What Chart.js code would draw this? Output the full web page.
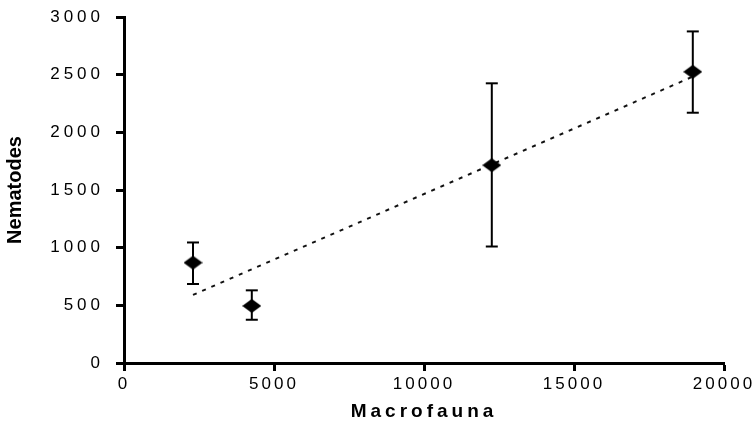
<!DOCTYPE html>
<html>
<head>
<meta charset="utf-8">
<script src="https://cdn.jsdelivr.net/npm/chart.js@4.4.1/dist/chart.umd.min.js"></script>
<style>
  html, body { margin: 0; padding: 0; background: #fff; }
  #wrap { width: 756px; height: 430px; }
</style>
</head>
<body>
<div id="wrap"><canvas id="nemChart" width="756" height="430"></canvas></div>
<script>
// values
const macrofauna = [2300, 4260, 12260, 18960];
const nematodes = [870, 495, 1715, 2525];
const errLow = [685, 375, 1010, 2170];
const errHigh = [1045, 630, 2425, 2875];
const trendX = [2300, 18960];
const trendY = [590, 2483];

const xTicks = [0, 5000, 10000, 15000, 20000];
const yTicks = [0, 500, 1000, 1500, 2000, 2500, 3000];

// flat diamond marker
const diamond = document.createElement('canvas');
diamond.width = 19;
diamond.height = 14;
const dctx = diamond.getContext('2d');
dctx.fillStyle = '#000';
dctx.beginPath();
dctx.moveTo(0, 7);
dctx.lineTo(9.5, 0);
dctx.lineTo(19, 7);
dctx.lineTo(9.5, 14);
dctx.closePath();
dctx.fill();

const points = macrofauna.map((x, i) => ({ x: x, y: nematodes[i] }));

// error bars as one broken line, caps drawn as 'line' points
const errData = [];
macrofauna.forEach((x, i) => {
    errData.push({ x: x, y: errLow[i] });
    errData.push({ x: x, y: errHigh[i] });
    errData.push({ x: x, y: null });
});

const trendData = trendX.map((x, i) => ({ x: x, y: trendY[i] }));

// letter spacing for tick labels / axis titles
function spaced(fn, spacing) {
    return function () {
        const ctx = this.ctx;
        ctx.save();
        ctx.letterSpacing = spacing;
        fn.apply(this, arguments);
        ctx.restore();
    };
}
const spacingPlugin = {
    id: 'spacing',
    afterLayout(chart) {
        const sx = chart.scales.x, sy = chart.scales.y;
        if (sx._wrapped) return;
        sx.drawLabels = spaced(sx.drawLabels, '3px');
        sy.drawLabels = spaced(sy.drawLabels, '4px');
        sx.drawTitle = spaced(sx.drawTitle, '4px');
        sx._wrapped = true;
    }
};

const plain = (v) => String(v);

const ctx = document.getElementById('nemChart').getContext('2d');
const nemChart = new Chart(ctx, {
    type: 'scatter',
    data: {
        datasets: [{
            label: 'Nematodes',
            data: points,
            pointStyle: diamond,
            pointRadius: 9,
            showLine: false
        }, {
            label: 'SE',
            data: errData,
            showLine: true,
            spanGaps: false,
            borderColor: '#000',
            borderWidth: 2,
            pointStyle: 'line',
            pointRadius: 6,
            pointBorderWidth: 2,
            pointBorderColor: '#000'
        }, {
            label: 'trend',
            data: trendData,
            showLine: true,
            borderColor: '#111',
            borderWidth: 2,
            borderDash: [4, 6],
            pointRadius: 0
        }]
    },
    options: {
        responsive: false,
        animation: false,
        layout: { padding: { top: 17, right: 32, left: 0, bottom: 0 } },
        plugins: {
            legend: { display: false },
            tooltip: { enabled: false }
        },
        scales: {
            x: {
                type: 'linear',
                min: 0,
                max: 20000,
                afterBuildTicks: (scale) => { scale.ticks = xTicks.map(v => ({ value: v })); },
                afterFit: (scale) => {
                    scale.height = 67;
                    scale.paddingLeft = 0;
                    scale.paddingRight = 0;
                },
                grid: { drawOnChartArea: false, drawTicks: true, tickLength: 8, tickWidth: 3, tickColor: '#000' },
                border: { display: true, color: '#000', width: 3 },
                ticks: {
                    color: '#000',
                    padding: 3,
                    maxRotation: 0,
                    callback: plain,
                    font: { family: 'Liberation Sans, Arial, sans-serif', size: 17 }
                },
                title: {
                    display: true,
                    text: 'Macrofauna',
                    color: '#000',
                    padding: { top: 0, bottom: 7 },
                    font: { family: 'Liberation Sans, Arial, sans-serif', size: 19, weight: 'bold' }
                }
            },
            y: {
                type: 'linear',
                min: 0,
                max: 3000,
                afterBuildTicks: (scale) => { scale.ticks = yTicks.map(v => ({ value: v })); },
                afterFit: (scale) => {
                    scale.width = 124;
                    scale.paddingTop = 0;
                    scale.paddingBottom = 0;
                },
                grid: { drawOnChartArea: false, drawTicks: true, tickLength: 8, tickWidth: 3, tickColor: '#000' },
                border: { display: true, color: '#000', width: 3 },
                ticks: {
                    color: '#000',
                    padding: 12,
                    callback: plain,
                    font: { family: 'Liberation Sans, Arial, sans-serif', size: 17 }
                },
                title: {
                    display: true,
                    text: 'Nematodes',
                    color: '#000',
                    padding: { top: 3, bottom: 0 },
                    font: { family: 'Liberation Sans, Arial, sans-serif', size: 20, weight: 'bold' }
                }
            }
        }
    },
    plugins: [spacingPlugin]
});
</script>
</body>
</html>
